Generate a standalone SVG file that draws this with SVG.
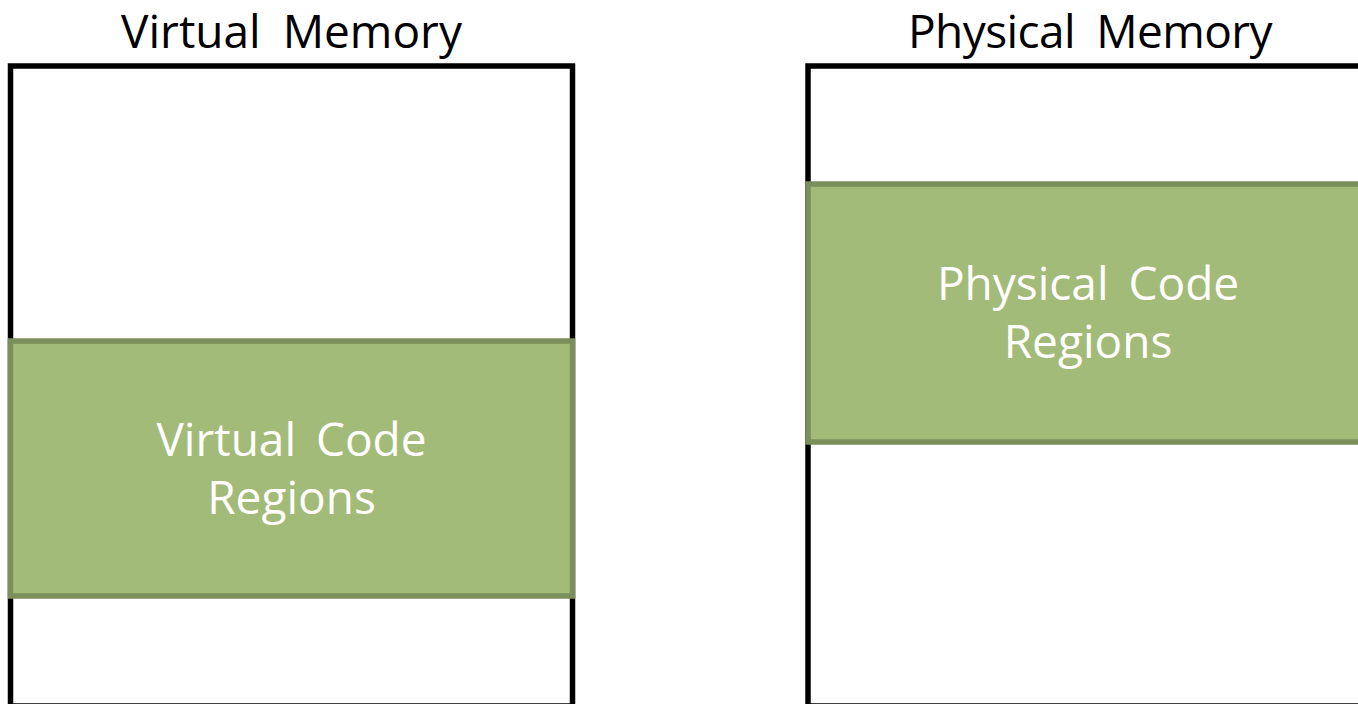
<svg xmlns="http://www.w3.org/2000/svg" width="1358" height="704" viewBox="0 0 1358 704">
  <style>
    .frame { fill: #ffffff; stroke: #000000; stroke-width: 5.5; }
    .region { fill: #a3bb78; stroke: #7b8f5a; stroke-width: 5.5; }
    .title { font-family: "Open Sans", "Noto Sans", sans-serif; font-size: 46px; fill: #000000; text-anchor: middle; word-spacing: 10px; }
    .label { font-family: "Open Sans", "Noto Sans", sans-serif; font-size: 46px; fill: #ffffff; text-anchor: middle; word-spacing: 8px; }
  </style>
  <rect width="1358" height="704" fill="#ffffff"/>

  <!-- Virtual address space -->
  <g id="virtual-memory">
    <rect class="frame" x="10.5" y="66" width="562" height="640"/>
    <text class="title" x="291.5" y="48">Virtual Memory</text>
  </g>
  <g id="virtual-code-regions">
    <rect class="region" x="10.5" y="341" width="562" height="255"/>
    <text class="label" x="291.5" y="456">Virtual Code</text>
    <text class="label" x="291.5" y="514">Regions</text>
  </g>

  <!-- Physical address space -->
  <g id="physical-memory">
    <rect class="frame" x="808" y="66" width="564" height="640"/>
    <text class="title" x="1090" y="48" letter-spacing="-0.6">Physical Memory</text>
  </g>
  <g id="physical-code-regions">
    <rect class="region" x="808" y="184" width="564" height="258"/>
    <text class="label" x="1088" y="300">Physical Code</text>
    <text class="label" x="1088" y="358">Regions</text>
  </g>

  <g id="connectors"></g>
</svg>
